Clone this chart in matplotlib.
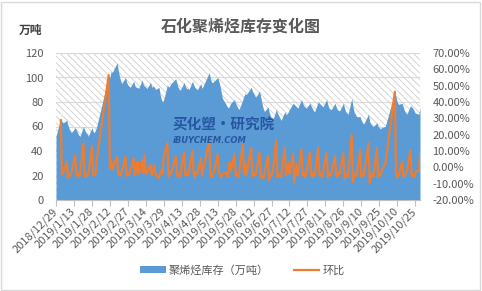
import numpy as np
import pandas as pd
import matplotlib
matplotlib.use('Agg')
import matplotlib.pyplot as plt
from matplotlib.patches import Rectangle
from matplotlib.ticker import FuncFormatter, MultipleLocator

plt.rcParams['font.family'] = ['Noto Sans CJK SC', 'DejaVu Sans']
plt.rcParams['hatch.linewidth'] = 0.6

TITLE = '石化聚烯烃库存变化图'
UNIT = '万吨'
INV_LABEL = '聚烯烃库存（万吨）'
RATIO_LABEL = '环比'

# trading days: 2018/12/29 (make-up workday) + weekdays w/o holidays
HOLIDAYS = ['2019-02-04', '2019-02-05', '2019-02-06', '2019-02-07', '2019-02-08',
            '2019-04-05', '2019-05-01', '2019-05-02', '2019-05-03', '2019-06-07',
            '2019-09-13', '2019-10-01', '2019-10-02', '2019-10-03', '2019-10-04',
            '2019-10-07']
dates = [pd.Timestamp('2018-12-29')] + list(
    pd.bdate_range('2019-01-02', '2019-10-29', freq='C', holidays=HOLIDAYS))

# inventory, 万吨 (one row per week)
inventory = [
    52,
    67, 64, 63,
    65, 61, 58, 56, 55,
    59, 57, 55, 53, 52,
    60, 57, 55, 54, 52,
    59, 56, 55, 57, 60,
    101, 100, 105, 104, 106,
    112, 106, 101, 97, 95,
    100, 96, 94, 93, 92,
    97, 93, 92, 92, 91,
    98, 94, 93, 92, 91,
    96, 92, 93, 92, 90,
    92, 86, 82, 80, 82,
    94, 92, 93, 95,
    99, 95, 92, 90, 90,
    96, 93, 91, 91, 90,
    97, 94, 92, 91, 90,
    95, 91,
    104, 99, 96, 96, 97,
    100, 97, 93, 88, 83,
    78, 76, 75, 77, 79,
    82, 79, 77, 75, 74,
    82, 85, 87, 86,
    92, 89, 87, 85, 84,
    89, 84, 79, 75, 72,
    76, 72, 69, 67, 65,
    74, 71, 69, 67, 65,
    72, 70, 70, 72, 74,
    79, 78, 77, 76, 75,
    82, 79, 77, 76, 75,
    79, 77, 75, 73, 72,
    80, 79, 78, 77, 76,
    82, 78, 75, 74, 74,
    79, 76, 74, 73, 73,
    79, 75, 72, 71, 70,
    83, 76, 72, 70, 68,
    68, 65, 63, 62,
    70, 64, 62, 61, 60,
    63, 60, 59, 58, 59,
    60,
    88, 84, 80, 78,
    79, 76, 73, 71, 70,
    77, 76, 75, 73, 71,
    70, 76,
]

# day-over-day change, %
ratio = [
    np.nan,
    28.8, -4.7, -3.0,
    3.4, -6.6, -4.0, -5.0, -3.0,
    7.5, -4.7, -5.5, -3.5, -5.0,
    14.8, -5.0, -6.0, -4.5, -4.0,
    12.6, -4.7, -5.0, -4.0, 4.5,
    56.5, -0.6, 4.5, -1.3, 1.4,
    6.5, -4.7, -3.0, -5.0, -2.5,
    6.5, -5.3, -3.5, -4.7, -2.0,
    5.5, -4.7, -2.5, 3.4, -4.0,
    4.5, -3.5, 7.5, -4.0, -3.0,
    1.3, -4.7, -2.0, 1.3, -4.0,
    -6.5, -3.0, -2.0, -4.0, 6.5,
    14.7, -6.0, -3.0, -4.0,
    6.5, -5.0, -4.0, -6.0, -3.0,
    9.0, -5.0, -3.5, -5.0, -2.5,
    10.0, -4.5, -6.0, -3.0, -4.0,
    5.6, -5.0,
    16.7, -5.0, -6.0, -4.0, -3.0,
    8.0, -3.0, -5.0, -6.0, -4.0,
    -3.0, -6.0, -4.0, 3.0, -2.0,
    8.0, -5.0, -4.0, -6.0, -3.0,
    14.0, -4.0, 3.0, -5.0,
    12.0, -5.5, -3.0, -5.0, -4.0,
    9.0, -6.0, -5.0, -7.0, -4.0,
    7.0, -7.8, -4.0, -5.0, -3.0,
    16.7, -6.0, -4.0, -5.0, -6.0,
    12.0, -5.0, -3.0, 3.0, -4.0,
    8.0, -9.6, -4.0, 2.0, -5.0,
    11.0, -5.0, -3.0, -6.0, -4.0,
    9.0, -4.0, -6.0, -3.0, -5.0,
    12.0, -5.0, -4.0, -6.0, -3.0,
    8.7, -6.0, -3.0, -5.0, -4.0,
    7.0, -5.0, -6.0, -3.0, -4.0,
    8.7, -7.0, -5.0, -4.0, -6.0,
    19.8, -9.0, -6.0, -4.0, -5.0,
    10.6, -6.0, -3.0, -5.0,
    14.7, -9.6, -5.0, -4.0, -6.0,
    12.0, -6.0, -4.0, -5.0, -2.0,
    2.0,
    46.3, -4.7, -6.0, -5.0,
    3.4, -5.0, -6.0, -4.0, -3.0,
    10.6, -5.0, -4.7, -6.0, -3.0,
    -2.0, 8.7,
]

tick_dates = pd.date_range('2018-12-29', '2019-10-25', freq='15D')

assert len(dates) == len(inventory) == len(ratio), (len(dates), len(inventory), len(ratio))

W, H = 482, 291
fig = plt.figure(figsize=(W / 100, H / 100), dpi=100)
ax = fig.add_axes([56 / W, 1 - 200 / H, (420 - 56) / W, 147 / H])
ax2 = ax.twinx()

# hatched plot-area background
ax.add_patch(Rectangle((0, 0), 1, 1, transform=ax.transAxes, facecolor='white',
                       edgecolor='#cfcfcf', hatch='\\' * 5, lw=0, zorder=0.2))
ax.yaxis.grid(True, color='#d9d9d9', lw=0.8)
ax.set_axisbelow(True)

area = ax.fill_between(dates, inventory, color='#5B9BD5', lw=0, zorder=1, label=INV_LABEL)
line, = ax2.plot(dates, ratio, color='#ED7D31', lw=1.6, label=RATIO_LABEL)

ax.set_xlim(pd.Timestamp('2018-12-29'), pd.Timestamp('2019-10-29'))
ax.set_ylim(0, 120)
ax.yaxis.set_major_locator(MultipleLocator(20))
ax2.set_ylim(-20, 70)
ax2.yaxis.set_major_locator(MultipleLocator(10))
ax2.yaxis.set_major_formatter(FuncFormatter(lambda v, _: f'{v:.2f}%'))

ax.set_xticks(tick_dates)
ax.set_xticklabels([f'{d.year}/{d.month}/{d.day}' for d in tick_dates],
                   rotation=45, ha='right', va='center', rotation_mode='anchor')

for a in (ax, ax2):
    for s in a.spines.values():
        s.set_visible(False)
ax.spines['bottom'].set_visible(True)
ax.spines['bottom'].set_color('#bfbfbf')
ax.spines['bottom'].set_linewidth(0.8)

ax.tick_params(axis='x', direction='out', length=4, width=0.8, color='#bfbfbf',
               labelsize=8, labelcolor='#595959', pad=3)
ax.tick_params(axis='y', length=0, labelsize=8, labelcolor='#595959', pad=9)
ax2.tick_params(axis='y', length=0, labelsize=8, labelcolor='#595959', pad=9)

fig.text(241 / W, 1 - 27 / H, TITLE, fontsize=11.5, fontweight='bold',
         color='#595959', ha='center', va='center')
fig.text(31 / W, 1 - 30 / H, UNIT, fontsize=8.5, fontweight='bold',
         color='#404040', ha='center', va='center')

# watermark
fig.text(224 / W, 1 - 125 / H, '买化塑·研究院', fontsize=10.5, fontweight='bold',
         color='#2756a3', ha='center', va='center')
fig.text(173 / W, 1 - 140 / H, 'iBUYCHEM.COM', fontsize=6, fontweight='bold',
         style='italic', color='#2756a3', ha='left', va='center', family='DejaVu Sans')

fig.legend([area, line], [INV_LABEL, RATIO_LABEL], loc='center',
           bbox_to_anchor=(242.5 / W, 1 - 270 / H), ncol=2, frameon=False,
           fontsize=8, handlelength=2.3, handletextpad=0.3, columnspacing=2.2,
           labelcolor='#595959')

fig.add_artist(Rectangle((0.002, 0.003), 0.994, 0.99, transform=fig.transFigure,
                         fill=False, edgecolor='#d9d9d9', lw=1))

fig.savefig('out.png', dpi=100)
